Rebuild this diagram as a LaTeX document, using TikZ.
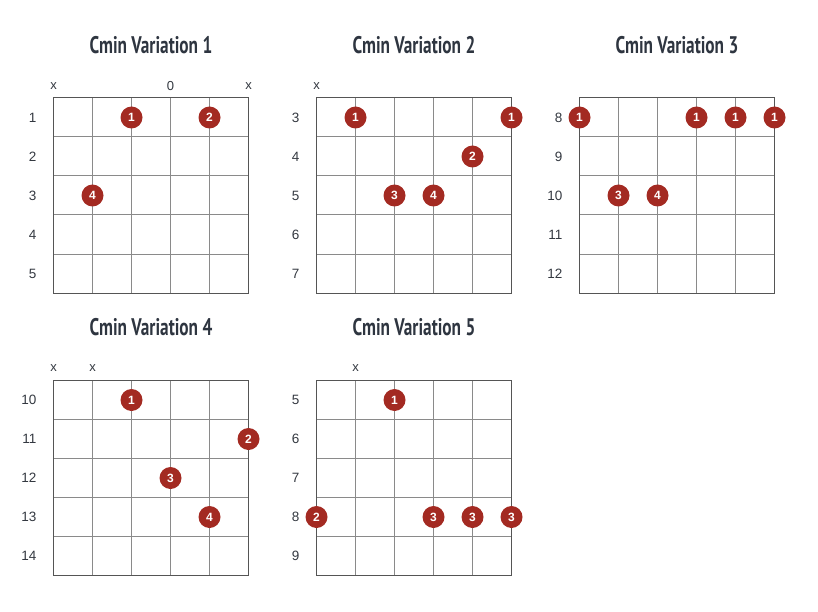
\documentclass[tikz,border=0pt]{standalone}
\usepackage{fontspec}
\setmainfont{Liberation Sans}
\newfontfamily\titlefont[FakeStretch=0.72]{PT Sans}
\definecolor{dotred}{HTML}{A32A22}
\definecolor{gridin}{HTML}{8A8A8A}
\definecolor{gridout}{HTML}{555555}
\definecolor{txt}{HTML}{333840}
\definecolor{titlecol}{HTML}{2E3540}
\newcommand\fretgrid{%
  \foreach \i in {1,...,4} {
    \draw[innerline] (\i*39,0) -- (\i*39,195);
    \draw[innerline] (0,\i*39) -- (195,\i*39);
  }
  \draw[outerline] (0,0) rectangle (195,195);
}
\begin{document}
\begin{tikzpicture}[x=1pt,y=-1pt,
  innerline/.style={draw=gridin, line width=1pt},
  outerline/.style={draw=gridout, line width=1pt},
  fdot/.style={circle, fill=dotred, minimum size=22pt, inner sep=0pt, text=white, font=\bfseries\fontsize{12}{12}\selectfont},
  fretnum/.style={anchor=east, text=txt, inner sep=0pt, font=\fontsize{13.5}{13.5}\selectfont},
  mute/.style={text=txt, inner sep=0pt, font=\fontsize{13}{13}\selectfont},
  ctitle/.style={text=titlecol, font=\titlefont\bfseries\fontsize{24}{24}\selectfont}]
\useasboundingbox (0,0) rectangle (818,612);

% ---------- Variation 1 ----------
\begin{scope}[shift={(53.5,98)}]
  \fretgrid
  \node[ctitle] (t1) at (97.5,-53) {Cmin Variation 1};
  \foreach \n [count=\r] in {1,2,3,4,5} \node[fretnum] (v1f\r) at (-17,39*\r-19.5) {\n};
  \node[mute] (v1m0) at (0,-12) {x};
  \node[mute] (v1m3) at (117,-12) {0};
  \node[mute] (v1m5) at (195,-12) {x};
  \node[fdot] (v1a) at (78,19.5) {1};
  \node[fdot] (v1b) at (156,19.5) {2};
  \node[fdot] (v1c) at (39,97.5) {4};
\end{scope}

% ---------- Variation 2 ----------
\begin{scope}[shift={(316.5,98)}]
  \fretgrid
  \node[ctitle] (t2) at (97.5,-53) {Cmin Variation 2};
  \foreach \n [count=\r] in {3,4,5,6,7} \node[fretnum] (v2f\r) at (-17,39*\r-19.5) {\n};
  \node[mute] (v2m0) at (0,-12) {x};
  \node[fdot] (v2a) at (39,19.5) {1};
  \node[fdot] (v2b) at (195,19.5) {1};
  \node[fdot] (v2c) at (156,58.5) {2};
  \node[fdot] (v2d) at (78,97.5) {3};
  \node[fdot] (v2e) at (117,97.5) {4};
\end{scope}

% ---------- Variation 3 ----------
\begin{scope}[shift={(579.5,98)}]
  \fretgrid
  \node[ctitle] (t3) at (97.5,-53) {Cmin Variation 3};
  \foreach \n [count=\r] in {8,9,10,11,12} \node[fretnum] (v3f\r) at (-17,39*\r-19.5) {\n};
  \node[fdot] (v3a) at (0,19.5) {1};
  \node[fdot] (v3b) at (117,19.5) {1};
  \node[fdot] (v3c) at (156,19.5) {1};
  \node[fdot] (v3d) at (195,19.5) {1};
  \node[fdot] (v3e) at (39,97.5) {3};
  \node[fdot] (v3f) at (78,97.5) {4};
\end{scope}

% ---------- Variation 4 ----------
\begin{scope}[shift={(53.5,380.5)}]
  \fretgrid
  \node[ctitle] (t4) at (97.5,-53) {Cmin Variation 4};
  \foreach \n [count=\r] in {10,11,12,13,14} \node[fretnum] (v4f\r) at (-17,39*\r-19.5) {\n};
  \node[mute] (v4m0) at (0,-12) {x};
  \node[mute] (v4m1) at (39,-12) {x};
  \node[fdot] (v4a) at (78,19.5) {1};
  \node[fdot] (v4b) at (195,58.5) {2};
  \node[fdot] (v4c) at (117,97.5) {3};
  \node[fdot] (v4d) at (156,136.5) {4};
\end{scope}

% ---------- Variation 5 ----------
\begin{scope}[shift={(316.5,380.5)}]
  \fretgrid
  \node[ctitle] (t5) at (97.5,-53) {Cmin Variation 5};
  \foreach \n [count=\r] in {5,6,7,8,9} \node[fretnum] (v5f\r) at (-17,39*\r-19.5) {\n};
  \node[mute] (v5m1) at (39,-12) {x};
  \node[fdot] (v5a) at (78,19.5) {1};
  \node[fdot] (v5b) at (0,136.5) {2};
  \node[fdot] (v5c) at (117,136.5) {3};
  \node[fdot] (v5d) at (156,136.5) {3};
  \node[fdot] (v5e) at (195,136.5) {3};
\end{scope}
\end{tikzpicture}
\end{document}
